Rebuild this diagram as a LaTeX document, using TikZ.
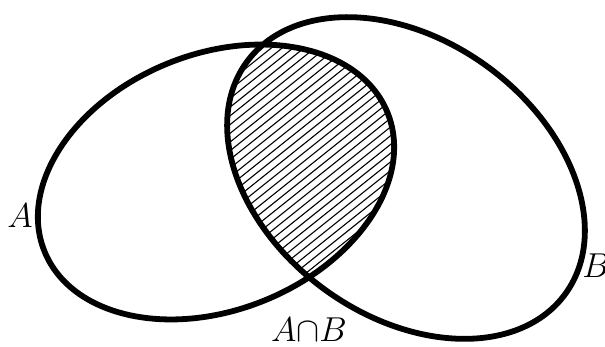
\documentclass[tikz,border=0pt]{standalone}
\usetikzlibrary{positioning}
\begin{document}
\begin{tikzpicture}[
      x=0.5pt, y=-0.5pt,
      font=\fontsize{17}{20}\selectfont,
      set/.style={
        line width=2.9pt,
        draw=black
      },
      hatch/.style={
        line width=0.55pt,
        draw=black
      },
      lbl/.style={inner sep=0pt}
    ]
    \useasboundingbox (0,0) rectangle (605,347);

    % Hatched intersection
    \begin{scope}
      \clip[rotate around={22:(216,182)}] (216,182) ellipse [x radius=185, y radius=128];
      \clip[rotate around={-36:(406,178)}] (406,178) ellipse [x radius=197, y radius=138];
      \foreach \k in {-60,...,10}
        \draw[hatch] (300+\k*10.9,400) -- ++(500,-400);
    \end{scope}

    % Sets
    \draw[set, rotate around={22:(216,182)}] (216,182) ellipse [x radius=185, y radius=128];
    \draw[set, rotate around={-36:(406,178)}] (406,178) ellipse [x radius=197, y radius=138];

    % Labels
    \node[lbl] (labA) at (20,216) {$A$};
    \node[lbl] (labB) at (596,266) {$B$};
    \node[lbl] (labAB) at (309,330) {$A{\cap}B$};

    \end{tikzpicture}
\end{document}
